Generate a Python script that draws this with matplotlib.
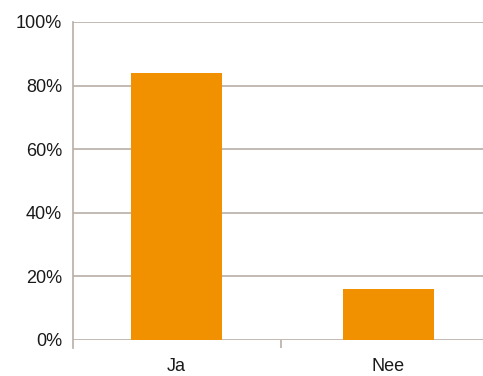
import matplotlib.pyplot as plt
from matplotlib.ticker import FixedLocator, FuncFormatter

categories = ['Ja', 'Nee']
values = [84, 16]
yticks = [0, 20, 40, 60, 80, 100]

orange = '#f29100'
grey = '#b7aea6'

plt.rcParams['font.family'] = ['Liberation Sans', 'DejaVu Sans']

fig = plt.figure(figsize=(4.83, 3.76), dpi=100)
ax = fig.add_axes([73 / 483, 36 / 376, 410 / 483, 318 / 376])

x = list(range(len(categories)))
ax.bar(x, values, width=0.43, color=orange, zorder=3)

ax.set_xlim(-0.487, 1.447)
ax.set_ylim(0, 100)
ax.set_yticks(yticks)
ax.yaxis.set_major_formatter(FuncFormatter(lambda v, p: f'{int(v)}%'))
ax.grid(axis='y', color=grey, linewidth=1.2, zorder=0)
ax.tick_params(axis='y', length=0, pad=8, labelsize=13, labelcolor='#1a1a1a')

ax.set_xticks(x)
ax.set_xticklabels(categories)
ax.xaxis.set_minor_locator(FixedLocator([0.494]))
ax.tick_params(axis='x', which='major', length=0, pad=13, labelsize=13, labelcolor='#1a1a1a')
ax.tick_params(axis='x', which='minor', length=6, width=1.2, color=grey)

for s in ['top', 'right', 'bottom']:
    ax.spines[s].set_visible(False)
ax.spines['left'].set_color(grey)
ax.spines['left'].set_linewidth(1.2)
ax.spines['left'].set_bounds(-2.6, 100)
ax.spines['left'].set_zorder(4)

fig.savefig('out.png', dpi=100)
